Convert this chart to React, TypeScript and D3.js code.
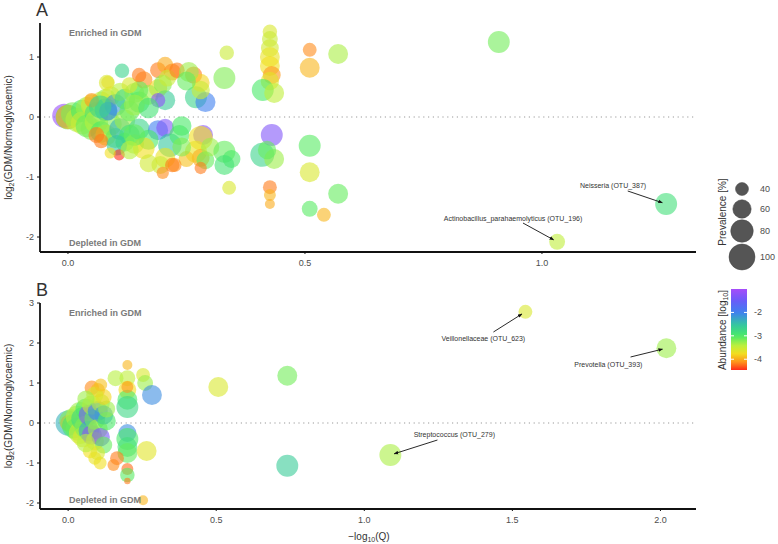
import React from 'react';
import * as d3 from 'd3';

// [ -log10(Q), log2FC, prevalence %, log10 abundance ]
const panelA: [number, number, number, number][] = [
  [-0.008, 0.02, 88, -1.1], [0.0, 0.0, 92, -3.0], [0.0, 0.0, 90, -4.0],
  [0.01, 0.05, 85, -3.2], [0.02, -0.05, 88, -3.4], [0.03, 0.1, 80, -3.0], [0.03, -0.1, 82, -3.5],
  [0.04, 0.15, 78, -3.3], [0.04, -0.15, 80, -3.1], [0.05, 0.2, 75, -3.6], [0.05, -0.2, 76, -3.2],
  [0.06, 0.05, 85, -2.9], [0.06, -0.08, 85, -3.4], [0.07, 0.25, 72, -3.5], [0.07, -0.25, 74, -3.0],
  [0.08, 0.3, 70, -3.3], [0.08, -0.3, 72, -3.7], [0.08, 0.12, 80, -2.6], [0.09, -0.12, 78, -3.2],
  [0.09, 0.35, 65, -3.6], [0.1, -0.35, 68, -3.1], [0.1, 0.2, 75, -2.2], [0.11, -0.2, 75, -2.4],
  [0.11, 0.42, 60, -3.4], [0.12, -0.42, 62, -3.0], [0.12, 0.3, 70, -2.8], [0.12, -0.05, 72, -3.3],
  [0.13, 0.1, 70, -3.1], [0.13, -0.3, 70, -2.9], [0.14, 0.4, 68, -3.2], [0.14, -0.45, 65, -3.4],
  [0.15, 0.25, 72, -3.0], [0.15, -0.2, 72, -2.7], [0.06, -0.3, 50, -4.2], [0.05, 0.28, 45, -4.1],
  [0.084, 0.58, 40, -3.8], [0.07, -0.4, 45, -4.2], [0.103, -0.47, 70, -2.5], [0.082, 0.57, 50, -3.6],
  [0.085, 0.1, 60, -2.1], [0.068, 0.17, 80, -2.7], [0.114, 0.77, 45, -2.7],
  [0.108, -0.63, 35, -4.45], [0.089, -0.6, 35, -3.75],
  [0.16, 0.62, 55, -4.15], [0.19, 0.78, 50, -4.2], [0.205, 0.87, 50, -4.0], [0.22, 0.75, 55, -4.15],
  [0.19, 0.48, 60, -3.8], [0.17, 0.37, 68, -3.3], [0.205, 0.28, 68, -2.6], [0.19, 0.28, 45, -1.2],
  [0.15, 0.45, 60, -3.1], [0.13, 0.53, 50, -3.6], [0.15, 0.7, 45, -4.2], [0.2, 0.55, 60, -3.2],
  [0.21, 0.65, 55, -3.5], [0.14, 0.2, 72, -3.3], [0.17, 0.15, 70, -2.9],
  [0.19, -0.22, 68, -2.0], [0.205, -0.18, 58, -1.3], [0.17, -0.38, 68, -3.0], [0.16, -0.52, 75, -3.75],
  [0.215, -0.47, 85, -2.55], [0.235, -0.3, 68, -3.0], [0.205, -0.68, 68, -3.7], [0.195, -0.8, 58, -3.5],
  [0.22, -0.8, 45, -4.2], [0.2, -0.93, 38, -4.15], [0.17, -0.77, 58, -3.55], [0.14, -0.3, 75, -3.1],
  [0.13, -0.55, 60, -3.4], [0.24, -0.15, 65, -3.0],
  [0.23, 0.78, 48, -4.2], [0.265, 0.7, 55, -4.2], [0.27, 0.33, 77, -2.7], [0.29, 0.25, 68, -2.0],
  [0.28, 0.57, 58, -3.8], [0.255, 0.75, 67, -3.3], [0.28, 0.45, 60, -3.5], [0.25, 0.6, 62, -3.1],
  [0.285, -0.3, 67, -1.25], [0.28, -0.35, 88, -3.75], [0.27, -0.58, 77, -3.7], [0.28, -0.68, 58, -4.0],
  [0.25, -0.7, 50, -3.9], [0.29, -0.72, 58, -3.1], [0.225, -0.8, 43, -4.15], [0.28, -0.85, 38, -4.2],
  [0.3, -0.5, 60, -3.3], [0.24, -0.5, 62, -3.2],
  [0.335, 1.07, 45, -3.5], [0.33, 0.65, 77, -3.2], [0.33, -0.58, 77, -3.1], [0.345, -0.7, 58, -3.0],
  [0.33, -0.8, 67, -2.9], [0.34, -1.18, 43, -3.6],
  [0.426, 1.42, 45, -3.6], [0.426, 1.3, 50, -3.5], [0.426, 1.15, 58, -3.55], [0.426, 1.0, 67, -3.7],
  [0.426, 0.85, 67, -3.75], [0.43, 0.7, 58, -4.1], [0.426, 0.6, 60, -3.65], [0.411, 0.45, 77, -3.0],
  [0.435, 0.4, 67, -3.45], [0.43, -0.3, 77, -1.3], [0.41, -0.63, 88, -2.7], [0.435, -0.7, 67, -3.3],
  [0.42, -0.55, 60, -3.1], [0.426, -1.17, 43, -4.2], [0.426, -1.3, 37, -3.95], [0.426, -1.45, 32, -4.0],
  [0.51, 1.12, 43, -4.15], [0.51, 0.82, 67, -3.95], [0.57, 1.05, 67, -3.35], [0.51, -0.48, 77, -3.05],
  [0.51, -0.92, 67, -3.6], [0.57, -1.28, 67, -3.1], [0.51, -1.53, 50, -3.05], [0.54, -1.63, 43, -3.95],
  [0.909, 1.25, 77, -3.15], [1.262, -1.45, 77, -2.85], [1.032, -2.08, 50, -3.45],
];

const panelB: [number, number, number, number][] = [
  [0.0, 0.0, 95, -2.35], [0.0, 0.0, 50, -4.15],
  [0.01, 0.05, 85, -3.2], [0.02, -0.08, 88, -3.0], [0.03, 0.15, 80, -3.4], [0.03, -0.15, 82, -3.1],
  [0.04, 0.25, 78, -3.3], [0.04, -0.25, 78, -3.5], [0.05, 0.1, 85, -2.8], [0.05, -0.35, 70, -3.6],
  [0.06, 0.35, 72, -3.0], [0.06, -0.1, 80, -3.2], [0.07, 0.2, 70, -1.3], [0.07, -0.2, 70, -2.3],
  [0.08, 0.45, 65, -3.5], [0.08, -0.3, 68, -1.2], [0.09, 0.1, 72, -3.1], [0.09, -0.45, 60, -3.6],
  [0.1, 0.3, 68, -2.0], [0.1, -0.15, 68, -3.3], [0.11, 0.5, 60, -3.4], [0.11, -0.35, 60, -1.4],
  [0.12, 0.2, 62, -2.2], [0.12, -0.55, 55, -3.1], [0.13, 0.05, 60, -3.0], [0.13, 0.35, 55, -3.3],
  [0.08, 0.88, 45, -4.15], [0.1, 0.82, 45, -3.95], [0.12, 0.65, 50, -3.8], [0.09, 0.7, 55, -3.6],
  [0.06, 0.6, 55, -3.3], [0.11, 0.95, 40, -3.9],
  [0.074, -0.7, 45, -3.75], [0.108, -1.0, 40, -3.75], [0.1, -0.75, 45, -3.6], [0.06, -0.5, 60, -3.4],
  [0.09, -0.88, 40, -3.7],
  [0.2, 1.45, 32, -3.95], [0.2, 1.12, 50, -3.45], [0.16, 1.12, 50, -3.4], [0.2, 0.83, 58, -3.75],
  [0.2, 0.58, 67, -3.0], [0.2, 0.4, 77, -2.75], [0.253, 1.2, 43, -3.6], [0.26, 1.0, 50, -3.3],
  [0.283, 0.7, 67, -2.1], [0.2, 0.9, 37, -4.1],
  [0.2, -0.25, 58, -2.1], [0.2, -0.4, 77, -3.0], [0.2, -0.6, 67, -2.85], [0.2, -0.75, 67, -3.1],
  [0.265, -0.7, 67, -3.65], [0.165, -0.88, 43, -4.2], [0.153, -1.05, 37, -4.15], [0.2, -1.15, 37, -4.25],
  [0.2, -1.3, 45, -3.05], [0.2, -1.45, 25, -4.2],
  [0.507, 0.9, 67, -3.6], [0.74, 1.18, 67, -3.15], [0.74, -1.07, 77, -2.6], [0.253, -1.93, 32, -3.95],
  [1.088, -0.8, 77, -3.35], [1.544, 2.78, 43, -3.6], [2.02, 1.87, 67, -3.3],
];

// annotations: point (q, lfc), label baseline (lq, llfc), arrow start (aq, alfc)
const annotA = [
  { label: 'Neisseria (OTU_387)', q: 1.262, lfc: -1.45, lq: 1.15, llfc: -1.175, aq: 1.181, alfc: -1.233 },
  { label: 'Actinobacillus_parahaemolyticus (OTU_196)', q: 1.032, lfc: -2.08, lq: 0.939, llfc: -1.725, aq: 0.96, alfc: -1.767 },
];
const annotB = [
  { label: 'Veillonellaceae (OTU_623)', q: 1.544, lfc: 2.78, lq: 1.402, llfc: 2.06, aq: 1.436, alfc: 2.275 },
  { label: 'Prevotella (OTU_393)', q: 2.02, lfc: 1.87, lq: 1.824, llfc: 1.41, aq: 1.899, alfc: 1.65 },
  { label: 'Streptococcus (OTU_279)', q: 1.088, lfc: -0.8, lq: 1.304, llfc: -0.36, aq: 1.247, alfc: -0.425 },
];

const xTicksA = [0, 0.5, 1.0];
const yTicksA = [-2, -1, 0, 1];
const xTicksB = [0, 0.5, 1.0, 1.5, 2.0];
const yTicksB = [-2, -1, 0, 1, 2, 3];
const prevLegend = [40, 60, 80, 100];
const abundTicks = [-2, -3, -4];
const colorStops = [-4.46, -4.15, -3.75, -3.4, -3.0, -2.5, -2.0, -1.5, -1.0];
const colorHex = ['#ff2a1a', '#ff8c1a', '#f2e020', '#b8f040', '#48ea68', '#34c4a4', '#3f80f0', '#6a5cf8', '#a64cfa'];

const FONT = '"Liberation Sans", Arial, Helvetica, sans-serif';

const color = d3.scaleLinear<string>().domain(colorStops).range(colorHex).interpolate(d3.interpolateRgb).clamp(true);
const areaScale = d3.scaleLinear().domain([40, 100]).range([42, 169]);
const radius = (p: number) => Math.sqrt(Math.max(6, areaScale(p)));

type Annot = { label: string; q: number; lfc: number; lq: number; llfc: number; aq: number; alfc: number };

function Panel(props: {
  letter: string; data: [number, number, number, number][]; annots: Annot[];
  xDomain: [number, number]; yDomain: [number, number]; top: number; bottom: number;
  xTicks: number[]; yTicks: number[]; markerId: string;
}) {
  const { letter, data, annots, xDomain, yDomain, top, bottom, xTicks, yTicks, markerId } = props;
  const left = 40, right = 696;
  const x = d3.scaleLinear().domain(xDomain).range([left, right]);
  const y = d3.scaleLinear().domain(yDomain).range([bottom, top]);
  const midY = (top + bottom) / 2;
  return (
    <g>
      <text x={36} y={top - 7} fontSize={18} fill="#333" fontFamily={FONT}>{letter}</text>
      <line x1={left + 4} x2={right} y1={y(0)} y2={y(0)} stroke="#999" strokeWidth={1.2} strokeDasharray="1.2,3.6" />
      {data.map((d, i) => (
        <circle key={i} cx={x(d[0])} cy={y(d[1])} r={radius(d[2])} fill={color(d[3])} fillOpacity={0.6} />
      ))}
      <line x1={left} x2={left} y1={top} y2={bottom} stroke="#111" strokeWidth={1.8} />
      <line x1={left} x2={right} y1={bottom} y2={bottom} stroke="#111" strokeWidth={1.8} />
      {yTicks.map(t => (
        <g key={'y' + t}>
          <line x1={left - 3} x2={left} y1={y(t)} y2={y(t)} stroke="#111" strokeWidth={1} />
          <text x={left - 6} y={y(t) + 3} fontSize={9} fill="#4d4d4d" textAnchor="end" fontFamily={FONT}>{t}</text>
        </g>
      ))}
      {xTicks.map(t => (
        <g key={'x' + t}>
          <line x1={x(t)} x2={x(t)} y1={bottom} y2={bottom + 2} stroke="#111" strokeWidth={1} />
          <text x={x(t)} y={bottom + 14} fontSize={9} fill="#4d4d4d" textAnchor="middle" fontFamily={FONT}>{t.toFixed(1)}</text>
        </g>
      ))}
      <text x={69} y={top + 13} fontSize={9} fontWeight="bold" fill="#7a7a7a" fontFamily={FONT}>Enriched in GDM</text>
      <text x={69} y={bottom - 6} fontSize={9} fontWeight="bold" fill="#7a7a7a" fontFamily={FONT}>Depleted in GDM</text>
      <text transform={`translate(12,${midY}) rotate(-90)`} fontSize={10} fill="#333" textAnchor="middle" fontFamily={FONT}>
        log<tspan fontSize={7} dy={2}>2</tspan><tspan dy={-2}>(GDM/Normoglycaemic)</tspan>
      </text>
      {annots.map((a, i) => {
        const px = x(a.q), py = y(a.lfc);
        const sx = x(a.aq), sy = y(a.alfc);
        const dx = sx - px, dy = sy - py;
        const len = Math.sqrt(dx * dx + dy * dy);
        const ex = px + (dx / len) * 4, ey = py + (dy / len) * 4;
        return (
          <g key={'a' + i}>
            <line x1={sx} y1={sy} x2={ex} y2={ey} stroke="#111" strokeWidth={0.9} markerEnd={`url(#${markerId})`} />
            <text x={x(a.lq)} y={y(a.llfc)} fontSize={7} fill="#333" textAnchor="middle" fontFamily={FONT}>{a.label}</text>
          </g>
        );
      })}
    </g>
  );
}

export default function App() {
  const barTop = 289, barBottom = 370, barX = 731, barW = 16;
  const barScale = d3.scaleLinear().domain([-4.46, -1.0]).range([barBottom, barTop]);
  const gradStops = d3.range(0, 1.0001, 0.05);
  const legendY = [189, 209, 231, 257];
  return (
    <svg width={778} height={544} style={{ position: 'absolute', left: 0, top: 0, background: '#fff' }}>
      <defs>
        <marker id="arrA" viewBox="0 0 10 10" refX={9} refY={5} markerWidth={5} markerHeight={5} orient="auto">
          <path d="M0,1 L10,5 L0,9 z" fill="#111" />
        </marker>
        <linearGradient id="abGrad" x1="0" y1="1" x2="0" y2="0">
          {gradStops.map(s => (
            <stop key={s} offset={`${s * 100}%`} stopColor={color(-4.46 + s * 3.46)} />
          ))}
        </linearGradient>
      </defs>
      <rect x={0} y={0} width={778} height={544} fill="#fff" />
      <Panel letter="A" data={panelA} annots={annotA} xDomain={[-0.059, 1.325]} yDomain={[-2.25, 1.567]}
        top={23} bottom={252} xTicks={xTicksA} yTicks={yTicksA} markerId="arrA" />
      <Panel letter="B" data={panelB} annots={annotB} xDomain={[-0.095, 2.12]} yDomain={[-2.15, 3.0]}
        top={303} bottom={509} xTicks={xTicksB} yTicks={yTicksB} markerId="arrA" />
      <text x={369} y={540} fontSize={10} fill="#333" textAnchor="middle" fontFamily={FONT}>
        −log<tspan fontSize={7} dy={2}>10</tspan><tspan dy={-2}>(Q)</tspan>
      </text>
      {/* Prevalence legend */}
      <text transform="translate(726,212) rotate(-90)" fontSize={10} fill="#333" textAnchor="middle" fontFamily={FONT}>Prevalence [%]</text>
      {prevLegend.map((p, i) => (
        <g key={p}>
          <circle cx={742} cy={legendY[i]} r={radius(p)} fill="#555" stroke="#444" strokeWidth={0.5} />
          <text x={760} y={legendY[i] + 3} fontSize={9} fill="#4d4d4d" fontFamily={FONT}>{p}</text>
        </g>
      ))}
      {/* Abundance legend */}
      <text transform="translate(726,330) rotate(-90)" fontSize={10} fill="#333" textAnchor="middle" fontFamily={FONT}>
        Abundance [log<tspan fontSize={7} dy={2}>10</tspan><tspan dy={-2}>]</tspan>
      </text>
      <rect x={barX} y={barTop} width={barW} height={barBottom - barTop} fill="url(#abGrad)" />
      {abundTicks.map(t => (
        <g key={t}>
          <line x1={barX} x2={barX + 3} y1={barScale(t)} y2={barScale(t)} stroke="#fff" strokeWidth={1} />
          <line x1={barX + barW - 3} x2={barX + barW} y1={barScale(t)} y2={barScale(t)} stroke="#fff" strokeWidth={1} />
          <text x={754} y={barScale(t) + 3} fontSize={9} fill="#4d4d4d" fontFamily={FONT}>{t}</text>
        </g>
      ))}
    </svg>
  );
}
